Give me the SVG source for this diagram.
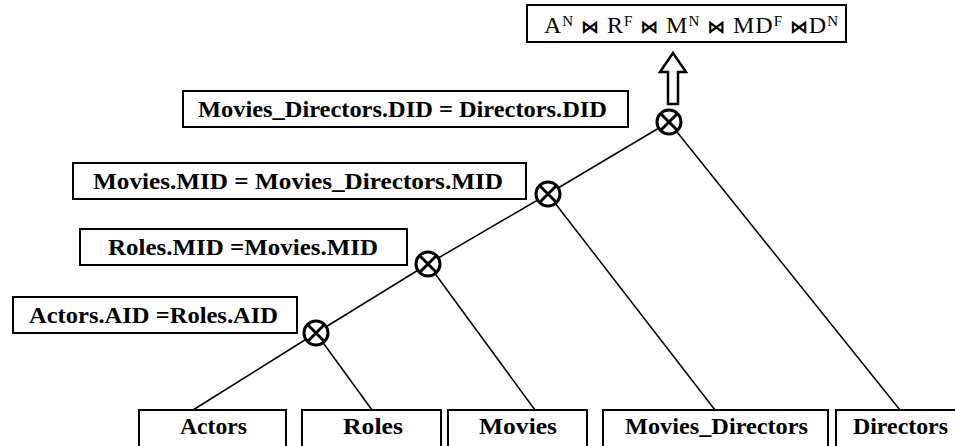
<svg xmlns="http://www.w3.org/2000/svg" width="955" height="446" viewBox="0 0 955 446">
  <style>
    .box { fill: #fff; stroke: #000; stroke-width: 2; }
    .lbl { font-family: "Liberation Serif", "Times New Roman", serif; font-size: 24px; font-weight: bold; fill: #000; text-anchor: middle; }
    .edge { stroke: #000; stroke-width: 1.5; fill: none; }
    .join circle { fill: #fff; stroke: #000; stroke-width: 3; }
    .join path { stroke: #000; stroke-width: 3; fill: none; }
    .sup { font-size: 15px; font-weight: normal; }
    .bt { font-family: "DejaVu Sans", sans-serif; font-size: 18px; font-weight: bold; }
  </style>
  <defs>
    <g id="joinMark" class="join">
      <circle cx="0" cy="0" r="12"/>
      <path d="M-8.5,-8.5 L8.5,8.5 M8.5,-8.5 L-8.5,8.5"/>
    </g>
  </defs>

  <!-- tree edges -->
  <g id="connectors">
    <polyline class="edge" points="193,410 316,333 428,264 548,194 669,122"/>
    <line class="edge" x1="316" y1="333" x2="372" y2="410"/>
    <line class="edge" x1="428" y1="264" x2="535" y2="410"/>
    <line class="edge" x1="548" y1="194" x2="715" y2="410"/>
    <line class="edge" x1="669" y1="122" x2="900" y2="410"/>
    <!-- hollow result arrow -->
    <polygon points="668,104 678,104 678,72 686,72 673,53 660,72 668,72" fill="#fff" stroke="#000" stroke-width="2.5" stroke-linejoin="miter"/>
  </g>

  <!-- join operators -->
  <g id="join1"><use href="#joinMark" x="316" y="333"/></g>
  <g id="join2"><use href="#joinMark" x="428" y="264"/></g>
  <g id="join3"><use href="#joinMark" x="548" y="194"/></g>
  <g id="join4"><use href="#joinMark" x="669" y="122"/></g>

  <!-- result expression -->
  <g id="result">
    <rect class="box" x="527" y="5" width="319" height="37"/>
    <text class="lbl" x="691" y="33" style="font-weight:normal" textLength="294" lengthAdjust="spacing">A<tspan class="sup" dy="-7">N</tspan><tspan dy="7"> </tspan><tspan class="bt">⋈</tspan> R<tspan class="sup" dy="-7">F</tspan><tspan dy="7"> </tspan><tspan class="bt">⋈</tspan> M<tspan class="sup" dy="-7">N</tspan><tspan dy="7"> </tspan><tspan class="bt">⋈</tspan> MD<tspan class="sup" dy="-7">F</tspan><tspan dy="7"> </tspan><tspan class="bt">⋈</tspan>D<tspan class="sup" dy="-7">N</tspan></text>
  </g>

  <!-- join conditions -->
  <g id="cond4">
    <rect class="box" x="183" y="91" width="445" height="36"/>
    <text class="lbl" x="402.5" y="117" textLength="409" lengthAdjust="spacingAndGlyphs">Movies_Directors.DID = Directors.DID</text>
  </g>
  <g id="cond3">
    <rect class="box" x="73" y="163" width="453" height="36"/>
    <text class="lbl" x="298" y="189" textLength="410" lengthAdjust="spacingAndGlyphs">Movies.MID = Movies_Directors.MID</text>
  </g>
  <g id="cond2">
    <rect class="box" x="80" y="229" width="327" height="36"/>
    <text class="lbl" x="243" y="255" textLength="270" lengthAdjust="spacingAndGlyphs">Roles.MID =Movies.MID</text>
  </g>
  <g id="cond1">
    <rect class="box" x="13" y="297" width="284" height="36"/>
    <text class="lbl" x="153.5" y="323" textLength="249" lengthAdjust="spacingAndGlyphs">Actors.AID =Roles.AID</text>
  </g>

  <!-- base relations -->
  <g id="actors">
    <rect class="box" x="139" y="410" width="147" height="50"/>
    <text class="lbl" x="213.5" y="434" textLength="67" lengthAdjust="spacingAndGlyphs">Actors</text>
  </g>
  <g id="roles">
    <rect class="box" x="302" y="410" width="139" height="50"/>
    <text class="lbl" x="373" y="434" textLength="60" lengthAdjust="spacingAndGlyphs">Roles</text>
  </g>
  <g id="movies">
    <rect class="box" x="448" y="410" width="139" height="50"/>
    <text class="lbl" x="518" y="434" textLength="78" lengthAdjust="spacingAndGlyphs">Movies</text>
  </g>
  <g id="movies_directors">
    <rect class="box" x="603" y="410" width="225" height="50"/>
    <text class="lbl" x="716.5" y="434" textLength="183" lengthAdjust="spacingAndGlyphs">Movies_Directors</text>
  </g>
  <g id="directors">
    <rect class="box" x="836" y="410" width="130" height="50"/>
    <text class="lbl" x="900.5" y="434" textLength="95" lengthAdjust="spacingAndGlyphs">Directors</text>
  </g>
</svg>
